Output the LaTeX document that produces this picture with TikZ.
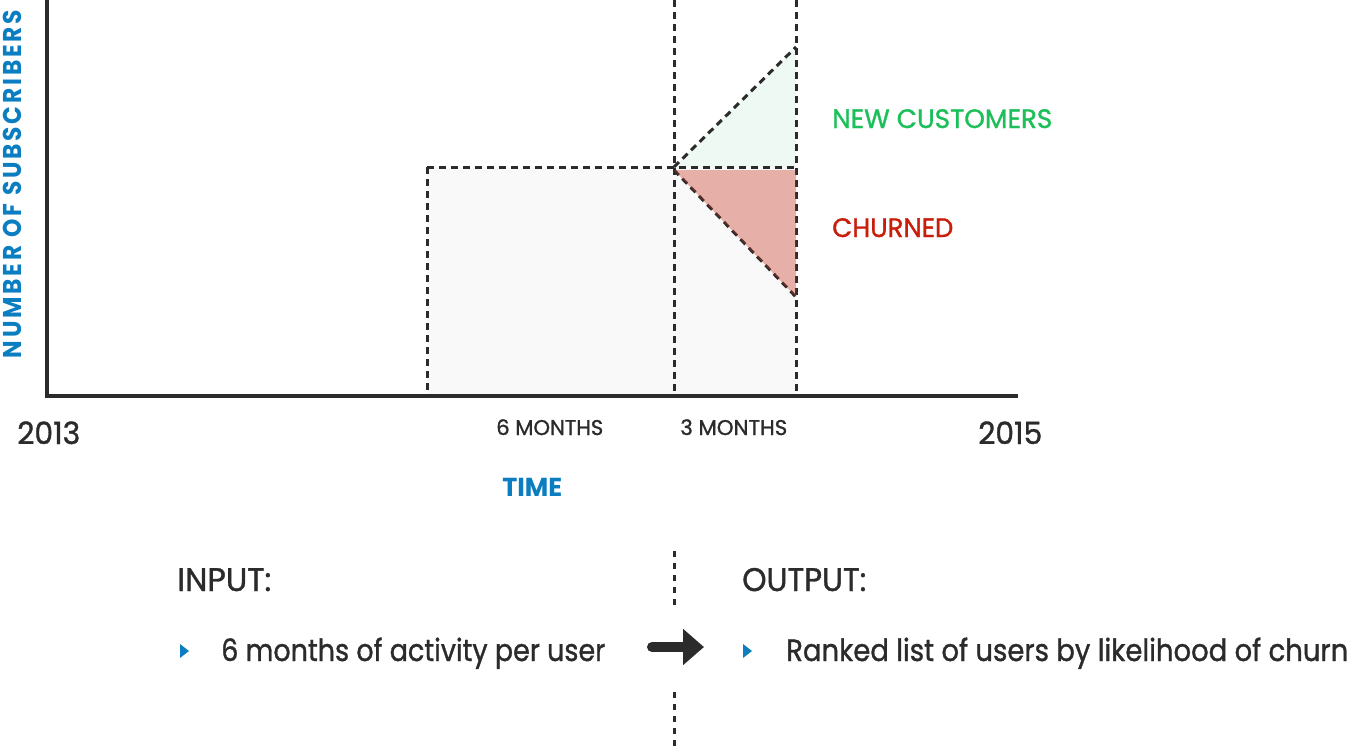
\documentclass[tikz,border=0pt]{standalone}
\usepackage{graphicx}
\usepackage{fontspec}
\setmainfont{Poppins}
\newfontfamily\medfont{Poppins}[FakeBold=1.2]
\usetikzlibrary{arrows.meta}
\definecolor{ink}{HTML}{2B2B2B}
\definecolor{axblue}{HTML}{0B7DC1}
\definecolor{newgreen}{HTML}{1DBF5A}
\definecolor{churnred}{HTML}{C81E0A}
\definecolor{boxgray}{HTML}{F9F9F9}
\definecolor{greenfill}{HTML}{EFF9F3}
\definecolor{redfill}{RGB}{200,52,30}
\newcommand{\fitw}[2]{\resizebox{#1}{\height}{#2}}
\begin{document}
\begin{tikzpicture}[x=0.75pt,y=-0.75pt,
  txt/.style={inner sep=0pt,anchor=base west,text=ink},
  dash line/.style={draw=ink,line width=2.25pt,dash pattern=on 5.25pt off 3.75pt},
  axis line/.style={draw=ink,line width=3pt},
  bullet/.style={fill=axblue,draw=none}]
\useasboundingbox (0,0) rectangle (1349,746);
% key points
\coordinate (o) at (46.5,396);
\coordinate (ytop) at (46.5,0);
\coordinate (xend) at (1018,396);
\coordinate (bl) at (427,396);
\coordinate (tl) at (427,167);
\coordinate (pm) at (674,167);
\coordinate (pmb) at (674,396);
\coordinate (pmt) at (674,0);
\coordinate (pr) at (796,167);
\coordinate (prb) at (796,396);
\coordinate (prt) at (796,0);
\coordinate (gtop) at (796,47);
\coordinate (rbot) at (796,297);
\coordinate (rtop) at (796,170);
\coordinate (rstart) at (674,170);
% fills
\fill[boxgray] (tl) rectangle (prb);
\fill[greenfill] (pm) -- (gtop) -- (pr) -- cycle;
% dashed lines
\draw[dash line] (tl) -- (bl);
\draw[dash line] (tl) -- (pr);
\draw[dash line] (pmt) -- (pmb);
\draw[dash line] (prt) -- (prb);
\draw[dash line] (pm) -- (gtop);
\draw[dash line] (rstart) -- (rbot);
% red triangle overlay
\fill[redfill,fill opacity=0.37] (rstart) -- (rtop) -- (rbot) -- cycle;
% axes
\draw[axis line] (ytop) -- ([yshift=-1.5pt]o);
\draw[axis line] ([xshift=-1.5pt]o) -- (xend);
% axis labels
\node[inner sep=0pt,rotate=90,text=axblue,font=\fontsize{19.3}{20}\selectfont\bfseries] (ylab) at (12,184)
  {\fitw{261pt}{\addfontfeatures{LetterSpace=12}NUMBER OF SUBSCRIBERS}};
\node[txt,text=axblue,font=\fontsize{19.5}{20}\selectfont\bfseries] (time) at (502,496) {\fitw{45pt}{TIME}};
\node[txt,font=\medfont\fontsize{23}{24}\selectfont] (y13) at (17,444) {\fitw{47.25pt}{2013}};
\node[txt,font=\medfont\fontsize{23}{24}\selectfont] (y15) at (978,444) {\fitw{48pt}{2015}};
\node[txt,font=\medfont\fontsize{16}{17}\selectfont] (m6) at (496,435) {\fitw{80.25pt}{6 MONTHS}};
\node[txt,font=\medfont\fontsize{16}{17}\selectfont] (m3) at (680,435) {\fitw{80.25pt}{3 MONTHS}};
\node[txt,text=newgreen,font=\medfont\fontsize{20}{21}\selectfont] (newc) at (832,128) {\fitw{165pt}{NEW CUSTOMERS}};
\node[txt,text=churnred,font=\medfont\fontsize{20}{21}\selectfont] (churn) at (832,237) {\fitw{90.75pt}{CHURNED}};
% bottom
\node[txt,font=\medfont\fontsize{24.5}{25}\selectfont] (inp) at (177,591) {\fitw{70.5pt}{INPUT:}};
\node[txt,font=\medfont\fontsize{24.5}{25}\selectfont] (outp) at (742,591) {\fitw{93pt}{OUTPUT:}};
\node[txt,font=\medfont\fontsize{23}{24}\selectfont] (intext) at (221,661) {\fitw{288pt}{6 months of activity per user}};
\node[txt,font=\medfont\fontsize{23}{24}\selectfont] (outtext) at (786,661) {\fitw{421.5pt}{Ranked list of users by likelihood of churn}};
\fill[bullet] (180,644) -- (189,651) -- (180,658) -- cycle;
\fill[bullet] (743,644) -- (752,651) -- (743,658) -- cycle;
% divider
\coordinate (d1a) at (674,551);
\coordinate (d1b) at (674,605);
\coordinate (d2a) at (674,692);
\coordinate (d2b) at (674,746);
\draw[dash line,dash pattern=on 4.5pt off 4.5pt] (d1a) -- (d1b);
\draw[dash line,dash pattern=on 4.5pt off 4.5pt] (d2a) -- (d2b);
% arrow
\coordinate (as) at (652,647);
\coordinate (ae) at (704,647);
\draw[draw=ink,line width=7.5pt,line cap=round,-{Triangle[length=15.75pt,width=26.25pt]}] (as) -- (ae);
\end{tikzpicture}
\end{document}
